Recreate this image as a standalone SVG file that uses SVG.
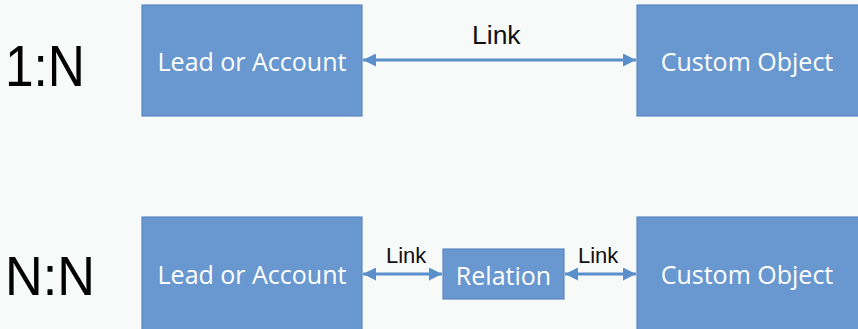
<svg xmlns="http://www.w3.org/2000/svg" width="858" height="329" viewBox="0 0 858 329">
<style>
.box{fill:#6898CF;stroke:#5A88C0;stroke-width:1.2}
.bt{font-family:"Open Sans","Liberation Sans",sans-serif;fill:#FFFFFF;text-anchor:middle;font-size:25px}
.lbl{font-family:"Liberation Sans",Arial,sans-serif;fill:#111111}
.big{font-family:"Liberation Sans",Arial,sans-serif;fill:#000000}
.conn{stroke:#5B8FCB;stroke-width:3;fill:none}
</style>
<defs>
<marker id="ah" viewBox="0 0 13 13" refX="13" refY="6.5" markerWidth="13" markerHeight="13" markerUnits="userSpaceOnUse" orient="auto-start-reverse">
<path d="M0,0 L13,6.5 L0,13 Z" fill="#5B8FCB"/>
</marker>
</defs>
<rect width="858" height="329" fill="#F8F9F9"/>
<text class="big" x="5" y="86" font-size="58" textLength="80" lengthAdjust="spacingAndGlyphs">1:N</text>
<text class="big" x="5" y="295" font-size="56" textLength="90" lengthAdjust="spacingAndGlyphs">N:N</text>
<g id="lead1">
<rect class="box" x="142" y="5" width="220" height="111"/>
<text class="bt" x="252" y="71">Lead or Account</text>
</g>
<g id="custom1">
<rect class="box" x="637" y="5" width="225" height="111"/>
<text class="bt" x="747" y="71">Custom Object</text>
</g>
<g id="lead2">
<rect class="box" x="142" y="217" width="220" height="120"/>
<text class="bt" x="252" y="284">Lead or Account</text>
</g>
<g id="relation">
<rect class="box" x="443" y="249" width="121" height="50"/>
<text class="bt" x="503.5" y="285">Relation</text>
</g>
<g id="custom2">
<rect class="box" x="637" y="217" width="225" height="120"/>
<text class="bt" x="747" y="284">Custom Object</text>
</g>
<g id="connectors">
<line class="conn" x1="363" y1="60" x2="636" y2="60" marker-start="url(#ah)" marker-end="url(#ah)"/>
<line class="conn" x1="363" y1="274" x2="442" y2="274" marker-start="url(#ah)" marker-end="url(#ah)"/>
<line class="conn" x1="565" y1="274" x2="636" y2="274" marker-start="url(#ah)" marker-end="url(#ah)"/>
<text class="lbl" x="472" y="44" font-size="26.5">Link</text>
<text class="lbl" x="386" y="263" font-size="22">Link</text>
<text class="lbl" x="578" y="263" font-size="22">Link</text>
</g>
</svg>
